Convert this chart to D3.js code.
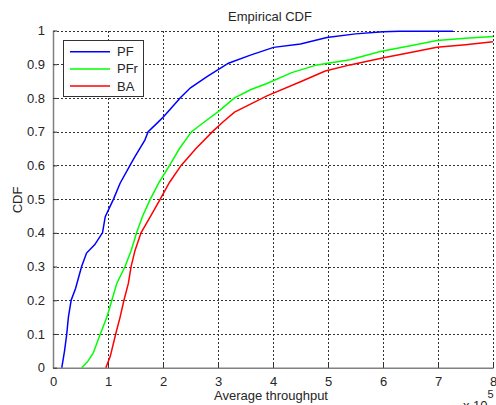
<!DOCTYPE html>
<html><head><meta charset="utf-8">
<script src="https://cdn.jsdelivr.net/npm/d3@7"></script>
<style>
body{margin:0;background:#fff;}
svg text{font-family:"Liberation Sans",Arial,sans-serif;fill:#262626;}
</style></head>
<body>
<svg id="c" width="496" height="405"></svg>
<script>
// Data (throughput in units of 1e5)
const seriesNames = ["PF", "PFr", "BA"];
const seriesColors = ["#0000ff", "#00ff00", "#ff0000"];
const pfX = [0.16,0.21,0.25,0.28,0.33,0.41,0.52,0.61,0.76,0.86,0.90,0.95,1.10,1.22,1.40,1.49,1.67,1.73,1.86,2.01,2.28,2.31,2.50,2.80,3.19,3.59,4.01,4.50,4.98,5.50,6.00,6.30,7.26,7.26];
const pfY = [0,0.05,0.10,0.15,0.20,0.235,0.30,0.34,0.365,0.39,0.40,0.448,0.50,0.547,0.60,0.626,0.675,0.70,0.72,0.744,0.794,0.80,0.83,0.863,0.903,0.927,0.95,0.96,0.979,0.99,0.996,0.998,0.998,1.0];
const pfrX = [0.52,0.63,0.73,0.86,0.98,1.07,1.16,1.31,1.42,1.52,1.63,1.77,1.93,2.12,2.30,2.52,2.72,3.01,3.30,3.60,3.89,4.34,4.80,5.40,5.95,6.50,6.98,7.50,8.0];
const pfrY = [0,0.018,0.043,0.10,0.15,0.20,0.25,0.30,0.347,0.40,0.45,0.50,0.55,0.60,0.65,0.70,0.725,0.76,0.80,0.825,0.843,0.875,0.898,0.913,0.938,0.955,0.97,0.977,0.982];
const baX = [0.96,1.04,1.14,1.22,1.29,1.37,1.42,1.49,1.60,1.77,1.95,2.12,2.33,2.60,2.90,3.10,3.30,3.89,4.50,4.95,5.40,6.01,6.50,6.98,7.50,8.0];
const baY = [0,0.033,0.10,0.15,0.20,0.25,0.30,0.347,0.40,0.448,0.50,0.55,0.60,0.65,0.70,0.73,0.758,0.806,0.848,0.88,0.898,0.919,0.935,0.95,0.958,0.967];
const xTicks = [0,1,2,3,4,5,6,7,8];
const yTicks = [0,0.1,0.2,0.3,0.4,0.5,0.6,0.7,0.8,0.9,1];

const svg = d3.select("#c");
const L = 53, R = 493, T = 30.5, B = 367.7;
const x = d3.scaleLinear().domain([0,8]).range([L,R]);
const y = d3.scaleLinear().domain([0,1]).range([B,T]);

// grid
const grid = svg.append("g").attr("stroke","#333").attr("stroke-width",1).attr("stroke-dasharray","2,2").attr("shape-rendering","crispEdges");
xTicks.slice(1).forEach(t=>grid.append("line").attr("x1",Math.round(x(t))+0.5).attr("x2",Math.round(x(t))+0.5).attr("y1",T).attr("y2",B));
yTicks.slice(1).forEach(t=>grid.append("line").attr("x1",L).attr("x2",R).attr("y1",Math.round(y(t))+0.5).attr("y2",Math.round(y(t))+0.5));

// axes
const xAxis = d3.axisBottom(x).tickValues(xTicks).tickFormat(d3.format("d")).tickSizeInner(-4).tickSizeOuter(0).tickPadding(9);
const yAxis = d3.axisLeft(y).tickValues(yTicks).tickFormat(d=>d===0?"0":d===1?"1":d3.format(".1f")(d)).tickSizeInner(-4).tickSizeOuter(0).tickPadding(8);
const gx = svg.append("g").attr("transform",`translate(0,${B})`).call(xAxis);
const gy = svg.append("g").attr("transform",`translate(${L},0)`).call(yAxis);
[gx,gy].forEach(g=>{
  g.select(".domain").attr("stroke","#808080").attr("stroke-width",1.5);
  g.selectAll(".tick line").attr("stroke","#333");
  g.selectAll(".tick text").attr("font-size","13px").attr("fill","#262626").attr("font-family","Liberation Sans, Arial, sans-serif");
});

// lines
const line = d3.line().x(d=>x(d[0])).y(d=>y(d[1]));
svg.append("clipPath").attr("id","clp").append("rect").attr("x",L).attr("y",T-2).attr("width",R-L).attr("height",B-T+4);
const data = [d3.zip(pfX,pfY), d3.zip(pfrX,pfrY), d3.zip(baX,baY)];
data.forEach((d,i)=>{
  svg.append("path").datum(d).attr("d",line).attr("fill","none").attr("stroke",seriesColors[i]).attr("stroke-width",1.5).attr("clip-path","url(#clp)");
});

// legend
const lg = svg.append("g");
lg.append("rect").attr("x",63.5).attr("y",40.5).attr("width",80).attr("height",56).attr("fill","#fff").attr("stroke","#333").attr("stroke-width",1);
seriesNames.forEach((n,i)=>{
  const yy = 51.7 + i*17.2;
  lg.append("line").attr("x1",70).attr("x2",110).attr("y1",yy).attr("y2",yy).attr("stroke",seriesColors[i]).attr("stroke-width",1.5);
  lg.append("text").attr("x",117).attr("y",yy+4.5).attr("font-size","13px").text(n);
});

// titles
svg.append("text").attr("x",270).attr("y",20.5).attr("text-anchor","middle").attr("font-size","13px").text("Empirical CDF");
svg.append("text").attr("x",271).attr("y",400).attr("text-anchor","middle").attr("font-size","13px").text("Average throughput");
svg.append("text").attr("transform","translate(22,200) rotate(-90)").attr("text-anchor","middle").attr("font-size","13px").text("CDF");
const ex = svg.append("text").attr("x",463).attr("y",410).attr("font-size","13px");
ex.append("tspan").text("x 10");
ex.append("tspan").attr("dy",-12).attr("font-size","11px").text("5");
</script>
</body></html>
